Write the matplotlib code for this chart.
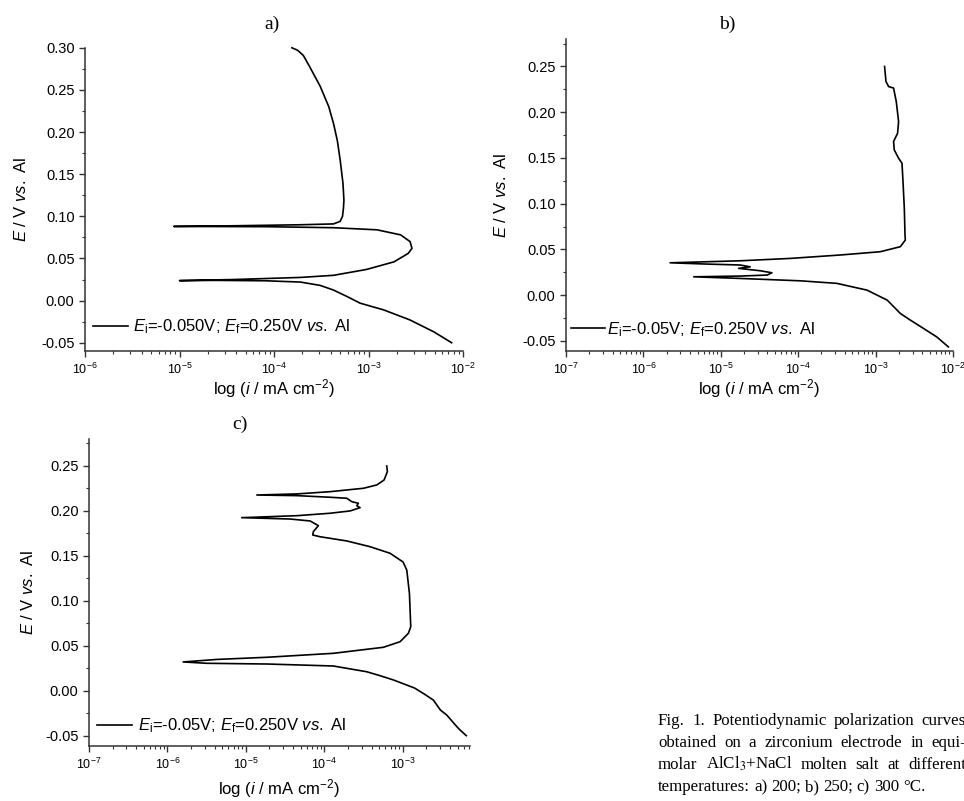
import matplotlib
matplotlib.use("Agg")
import matplotlib.pyplot as plt
from matplotlib.ticker import MultipleLocator, FuncFormatter, LogLocator
import numpy as np

plt.rcParams['font.family'] = ['Liberation Sans', 'DejaVu Sans']
plt.rcParams['mathtext.fontset'] = 'custom'
plt.rcParams['mathtext.rm'] = 'Liberation Sans'
plt.rcParams['mathtext.it'] = 'Liberation Sans:italic'
plt.rcParams['mathtext.bf'] = 'Liberation Sans:bold'
plt.rcParams['axes.unicode_minus'] = False

# curves: log10(i / mA cm-2) and E / V vs. Al, in scan order
a_log_i = [-2.12, -2.31, -2.56, -2.84, -3.09, -3.23, -3.37, -3.51, -3.72, -4.08, -4.61, -5.00,
           -4.43, -3.72, -3.37, -3.02, -2.73, -2.58, -2.54, -2.56, -2.66, -2.91, -3.37, -4.08, -5.06,
           -4.43, -3.72, -3.37, -3.30, -3.275, -3.265, -3.26, -3.27, -3.30, -3.33, -3.37, -3.42,
           -3.51, -3.62, -3.69, -3.75, -3.81]
a_E = [-0.050, -0.037, -0.023, -0.011, -0.003, 0.005, 0.0125, 0.018, 0.022, 0.0235, 0.024, 0.0237,
       0.025, 0.0275, 0.030, 0.037, 0.046, 0.056, 0.062, 0.070, 0.078, 0.084, 0.0865, 0.0877, 0.088,
       0.0888, 0.090, 0.091, 0.094, 0.100, 0.110, 0.119, 0.139, 0.167, 0.190, 0.210, 0.230,
       0.254, 0.277, 0.291, 0.297, 0.300]

b_log_i = [-2.06, -2.21, -2.38, -2.55, -2.68, -2.85, -3.11, -3.50, -3.97, -4.75, -5.35,
           -4.75, -4.40, -4.34, -4.49, -4.77, -4.62, -4.75, -5.18, -5.655,
           -4.75, -4.10, -3.46, -2.94, -2.68, -2.616, -2.62, -2.629, -2.646, -2.659, -2.703,
           -2.759, -2.768, -2.716, -2.703, -2.733, -2.768, -2.832, -2.866, -2.884]
b_E = [-0.0565, -0.0456, -0.0364, -0.0273, -0.020, -0.0054, 0.0055, 0.0129, 0.0157, 0.0183, 0.0201,
       0.0209, 0.0220, 0.0245, 0.0267, 0.0293, 0.0310, 0.0330, 0.0340, 0.0354,
       0.0376, 0.0402, 0.0439, 0.0475, 0.053, 0.0603, 0.0657, 0.095, 0.1241, 0.1442, 0.1497,
       0.1588, 0.1679, 0.177, 0.1898, 0.2117, 0.2264, 0.228, 0.2336, 0.250]

c_log_i = [-2.19, -2.27, -2.31, -2.44, -2.52, -2.61, -2.72, -2.85, -3.00, -3.12, -3.30, -3.46,
           -3.885, -4.73, -5.50, -5.80, -5.37, -4.73, -3.885, -3.247, -3.034, -2.928, -2.898,
           -2.915, -2.949, -2.996, -3.162, -3.417, -3.714, -4.055, -4.147, -4.14, -4.076, -4.18,
           -4.437, -5.053, -4.35, -3.927, -3.67, -3.544, -3.586, -3.566, -3.65, -3.714, -3.927,
           -4.35, -4.86, -4.35, -3.927, -3.50, -3.331, -3.238, -3.196, -3.204]
c_E = [-0.050, -0.0437, -0.040, -0.027, -0.0215, -0.0104, -0.004, 0.003, 0.008, 0.012, 0.017,
       0.0211, 0.0275, 0.0297, 0.0305, 0.0320, 0.0348, 0.0372, 0.0416, 0.0483, 0.0545, 0.0639,
       0.0712, 0.1084, 0.1343, 0.1432, 0.1529, 0.1602, 0.1666, 0.1713, 0.1732, 0.1769, 0.1836,
       0.1888, 0.191, 0.1925, 0.1947, 0.1974, 0.200, 0.2036, 0.2058, 0.2085, 0.2103, 0.2141,
       0.2152, 0.217, 0.2177, 0.2189, 0.2214, 0.2252, 0.2289, 0.2344, 0.2437, 0.250]

legend_a = r'$E_\mathrm{i}$=-0.050V; $E_\mathrm{f}$=0.250V $vs.$ Al'
legend_bc = r'$E_\mathrm{i}$=-0.05V; $E_\mathrm{f}$=0.250V $vs.$ Al'

caption_lines = ['Fig. 1. Potentiodynamic polarization curves',
                 'obtained on a zirconium electrode in equi-',
                 r'molar AlCl$_3$+NaCl molten salt at different',
                 'temperatures: a) 200; b) 250; c) 300 °C.']

W, H = 964, 801
fig = plt.figure(figsize=(W / 100, H / 100), dpi=100)


def make_axes(rect_px, xlim, ylim):
    l, t, r, b = rect_px
    ax = fig.add_axes([l / W, 1 - b / H, (r - l) / W, (b - t) / H])
    ax.set_xscale('log')
    ax.set_xlim(*xlim)
    ax.set_ylim(*ylim)
    for s in ['top', 'right']:
        ax.spines[s].set_visible(False)
    for s in ['left', 'bottom']:
        ax.spines[s].set_linewidth(1.1)
        ax.spines[s].set_color('#333333')
    ax.yaxis.set_major_locator(MultipleLocator(0.05))
    ax.yaxis.set_minor_locator(MultipleLocator(0.025))
    ax.yaxis.set_major_formatter(FuncFormatter(lambda v, p: f'{v:.2f}'.replace('-0.00', '0.00')))
    ax.xaxis.set_major_locator(LogLocator(base=10, numticks=20))
    ax.xaxis.set_minor_locator(LogLocator(base=10, subs=np.arange(2, 10), numticks=20))
    ax.tick_params(which='major', direction='out', length=4.5, width=1.0, color='#333333')
    ax.tick_params(which='minor', direction='out', length=2.5, width=0.8, color='#333333')
    ax.tick_params(axis='y', labelsize=10.5, pad=3)
    ax.tick_params(axis='x', labelsize=9, pad=3)
    ax.set_xlabel(r'log ($i$ / mA cm$^{-2}$)', fontsize=12)
    ax.set_ylabel(r'$E$ / V $vs.$ Al', fontsize=12)
    return ax


ax_a = make_axes((85, 47.7, 463, 351), (1e-6, 1e-2), (-0.0598, 0.3001))
ax_b = make_axes((566, 39, 953, 351), (1e-7, 1e-2), (-0.061, 0.28))
ax_c = make_axes((89, 439, 470, 746), (1e-7, 7.2e-3), (-0.0615, 0.28))

ax_a.plot(np.power(10.0, a_log_i), a_E, color='black', lw=1.2, clip_on=False, label=legend_a)
ax_b.plot(np.power(10.0, b_log_i), b_E, color='black', lw=1.2, clip_on=False, label=legend_bc)
ax_c.plot(np.power(10.0, c_log_i), c_E, color='black', lw=1.2, clip_on=False, label=legend_bc)

ax_a.legend(loc='center left', bbox_to_anchor=(0.021, 0.079), frameon=False, borderpad=0,
            borderaxespad=0, handlelength=2.1, handletextpad=0.3, fontsize=12)
ax_b.legend(loc='center left', bbox_to_anchor=(0.013, 0.07), frameon=False, borderpad=0,
            borderaxespad=0, handlelength=2.05, handletextpad=0.1, fontsize=12)
ax_c.legend(loc='center left', bbox_to_anchor=(0.021, 0.065), frameon=False, borderpad=0,
            borderaxespad=0, handlelength=2.1, handletextpad=0.35, fontsize=12)

ax_a.yaxis.set_label_coords(-0.148, 0.5)
ax_b.yaxis.set_label_coords(-0.148, 0.5)
ax_c.yaxis.set_label_coords(-0.140, 0.5)
ax_a.xaxis.set_label_coords(0.5, -0.085)
ax_b.xaxis.set_label_coords(0.5, -0.083)
ax_c.xaxis.set_label_coords(0.5, -0.10)

serif = ['Liberation Serif', 'DejaVu Serif']
fig.text(272 / W, 1 - 24 / H, 'a)', ha='center', va='center', family=serif, fontsize=14)
fig.text(727 / W, 1 - 24 / H, 'b)', ha='center', va='center', family=serif, fontsize=14)
fig.text(240 / W, 1 - 424 / H, 'c)', ha='center', va='center', family=serif, fontsize=14)

# justified caption, placed word by word
renderer = fig.canvas.get_renderer()
x_left, x_right = 658, 966
baselines = [725, 747, 769, 791]
for k, line in enumerate(caption_lines):
    words = line.split(' ')
    items = [fig.text(0, 1 - baselines[k] / H, w, family=serif, fontsize=12.2,
                      math_fontfamily='stix', va='baseline') for w in words]
    widths = [t.get_window_extent(renderer).width for t in items]
    if k < len(caption_lines) - 1:
        gap = (x_right - x_left - sum(widths)) / (len(words) - 1)
    else:
        gap = 4
    x = x_left
    for t, w in zip(items, widths):
        t.set_x(x / W)
        x += w + gap

fig.savefig('out.png', dpi=100)
